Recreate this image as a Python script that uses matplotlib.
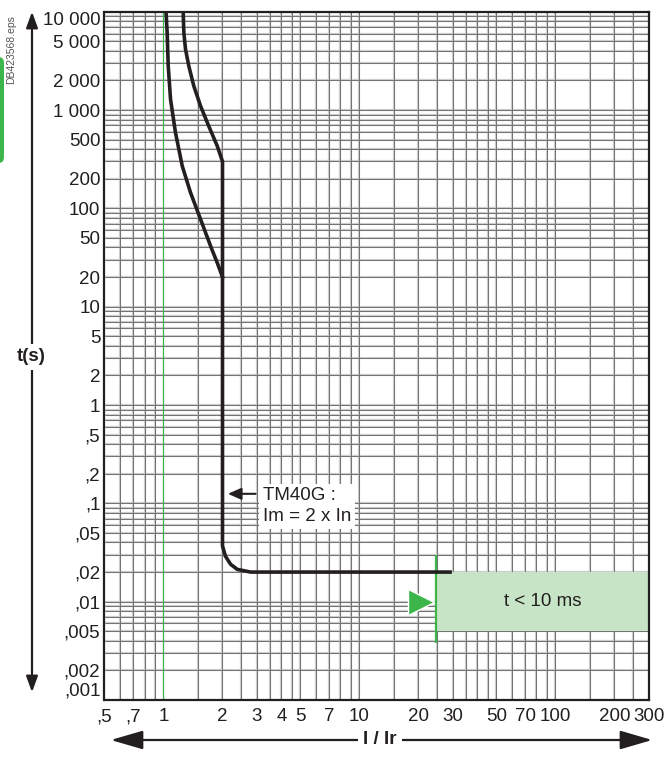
import numpy as np
import matplotlib.pyplot as plt
from matplotlib.patches import FancyArrowPatch, FancyBboxPatch, Rectangle
from matplotlib.ticker import FixedLocator, NullLocator

plt.rcParams['font.family'] = ['Liberation Sans', 'DejaVu Sans']

# axis ticks and labels
x_ticks = [0.5, 0.7, 1, 2, 3, 4, 5, 7, 10, 20, 30, 50, 70, 100, 200, 300]
x_labels = [',5', ',7', '1', '2', '3', '4', '5', '7', '10', '20', '30', '50', '70', '100', '200', '300']
y_ticks = [10000, 5000, 2000, 1000, 500, 200, 100, 50, 20, 10, 5, 2, 1,
           0.5, 0.2, 0.1, 0.05, 0.02, 0.01, 0.005, 0.002, 0.001]
y_labels = ['10 000', '5 000', '2 000', '1 000', '500', '200', '100', '50', '20', '10', '5', '2', '1',
            ',5', ',2', ',1', ',05', ',02', ',01', ',005', ',002', ',001']

# grid subdivisions per decade
x_subs = [1, 1.5, 2, 2.5, 3, 3.5, 4, 4.5, 5, 6, 7, 8, 9]
y_subs = [1, 2, 3, 4, 5, 6, 7, 8, 9]

# trip curve, cold state (upper curve) incl. magnetic part
cold_x = [1.26, 1.27, 1.295, 1.346, 1.427, 1.545, 1.70, 1.88, 2.0, 2.0, 2.07, 2.2, 2.38, 2.78, 29]
cold_y = [10000, 6140, 4150, 2810, 1760, 1100, 689, 431, 300, 0.037, 0.029, 0.024, 0.0213, 0.02, 0.02]
# hot state (lower curve)
hot_x = [1.03, 1.044, 1.057, 1.086, 1.151, 1.246, 1.373, 1.545, 1.75, 1.88, 2.0]
hot_y = [10000, 6140, 2810, 1288, 590, 270, 145, 77.5, 40, 28, 20]

# limitation zone
zone_x = [24.5, 300]
zone_y = [0.005, 0.02]
zone_mark_y = [0.0038, 0.03]
zone_label = 't < 10 ms'

ink = '#231f20'
green = '#3cb54a'
fs = 13.5

W, H = 667, 758
fig = plt.figure(figsize=(W / 100, H / 100), dpi=100)


def fx(px):
    return px / W


def fy(py):
    return 1 - py / H


ax = fig.add_axes([fx(104.5), fy(700), (649 - 104.5) / W, (700 - 11.7) / H])
ax.set_xscale('log')
ax.set_yscale('log')
ax.set_xlim(0.5, 300)
ax.set_ylim(0.001, 10000)

# grid: light shadow + dark line
xg = [s * 10.0 ** d for d in range(-1, 3) for s in x_subs]
xg = [v for v in xg if 0.5 < v < 300 and v != 1]
yg = [s * 10.0 ** d for d in range(-3, 4) for s in y_subs]
yg = [v for v in yg if 0.001 < v < 10000]
ax.vlines(xg, 0.001, 10000, color='#cdcdcd', lw=1.6, zorder=1)
ax.hlines(yg, 0.5, 300, color='#cdcdcd', lw=1.6, zorder=1)
ax.vlines(xg, 0.001, 10000, color='#727272', lw=0.7, zorder=1.1)
ax.hlines(yg, 0.5, 300, color='#727272', lw=0.7, zorder=1.1)
ax.axvline(1, color=green, lw=0.9, zorder=1.2)

# zone
ax.add_patch(Rectangle((zone_x[0], zone_y[0]), zone_x[1] - zone_x[0], zone_y[1] - zone_y[0],
                       facecolor='#c8e4c6', edgecolor='none', zorder=2))
ax.vlines(zone_x[0], zone_mark_y[0], zone_mark_y[1], color=green, lw=1.6, zorder=3)
ax.plot([20.6], [0.01], marker='>', ms=19, color=green, mec='white', mew=1, zorder=3,
        clip_on=False)
ax.text(np.sqrt(zone_x[0] * zone_x[1]), np.sqrt(zone_y[0] * zone_y[1]), zone_label,
        ha='center', va='center', fontsize=fs, color=ink, zorder=5)

# curves
ax.plot(cold_x, cold_y, color=ink, lw=2.6, solid_joinstyle='round', zorder=4)
ax.plot(hot_x, hot_y, color=ink, lw=2.6, solid_joinstyle='round', zorder=4)

# annotation
ax.text(3.2, 0.093, 'TM40G :\nIm = 2 x In', ha='left', va='center', fontsize=fs, color=ink,
        linespacing=1.3, zorder=5,
        bbox=dict(boxstyle='square,pad=0.2', facecolor='white', edgecolor='none'))
ax.annotate('', xy=(2.13, 0.125), xytext=(2.95, 0.125),
            arrowprops=dict(arrowstyle='-|>,head_length=0.5,head_width=0.22', color=ink, lw=1.5,
                            mutation_scale=16, shrinkA=0, shrinkB=0), zorder=6)

# ticks
ax.xaxis.set_major_locator(FixedLocator(x_ticks))
ax.xaxis.set_minor_locator(NullLocator())
ax.set_xticklabels(x_labels)
ax.yaxis.set_major_locator(FixedLocator(y_ticks))
ax.yaxis.set_minor_locator(NullLocator())
ax.set_yticklabels(y_labels)
ax.tick_params(axis='both', length=0, labelsize=fs, labelcolor=ink)
ax.tick_params(axis='x', pad=6)
ax.tick_params(axis='y', pad=3)
yt = ax.yaxis.get_major_ticks()
yt[0].label1.set_va('top')
yt[-1].label1.set_va('bottom')

for s in ax.spines.values():
    s.set_linewidth(1.6)
    s.set_color(ink)
    s.set_zorder(7)

# axis arrows outside the plot
fig.add_artist(FancyArrowPatch((fx(32), fy(695)), (fx(32), fy(9)), transform=fig.transFigure,
                               arrowstyle='<|-|>,head_length=0.6,head_width=0.22',
                               mutation_scale=16, color=ink, lw=1.6))
fig.text(fx(31), fy(357), 't(s)', ha='center', va='center', fontsize=fs, fontweight='bold',
         color=ink, bbox=dict(boxstyle='square,pad=0.25', facecolor='white', edgecolor='none'))
fig.add_artist(FancyArrowPatch((fx(108), fy(740)), (fx(655), fy(740)), transform=fig.transFigure,
                               arrowstyle='<|-|>,head_length=1.1,head_width=0.32',
                               mutation_scale=18, color=ink, lw=1.6))
fig.text(fx(380), fy(740), 'I / Ir', ha='center', va='center', fontsize=fs, fontweight='bold',
         color=ink, bbox=dict(boxstyle='square,pad=0.3', facecolor='white', edgecolor='none'))

# side marks
fig.text(fx(11), fy(50), 'DB423568.eps', rotation=90, ha='center', va='center', fontsize=7.5,
         color='#555555')
fig.add_artist(FancyBboxPatch((fx(-20), fy(163)), fx(24), (163 - 57) / H, transform=fig.transFigure,
                              boxstyle='round,pad=0,rounding_size=0.008', facecolor=green,
                              edgecolor='none'))

fig.savefig('out.png', dpi=100)
